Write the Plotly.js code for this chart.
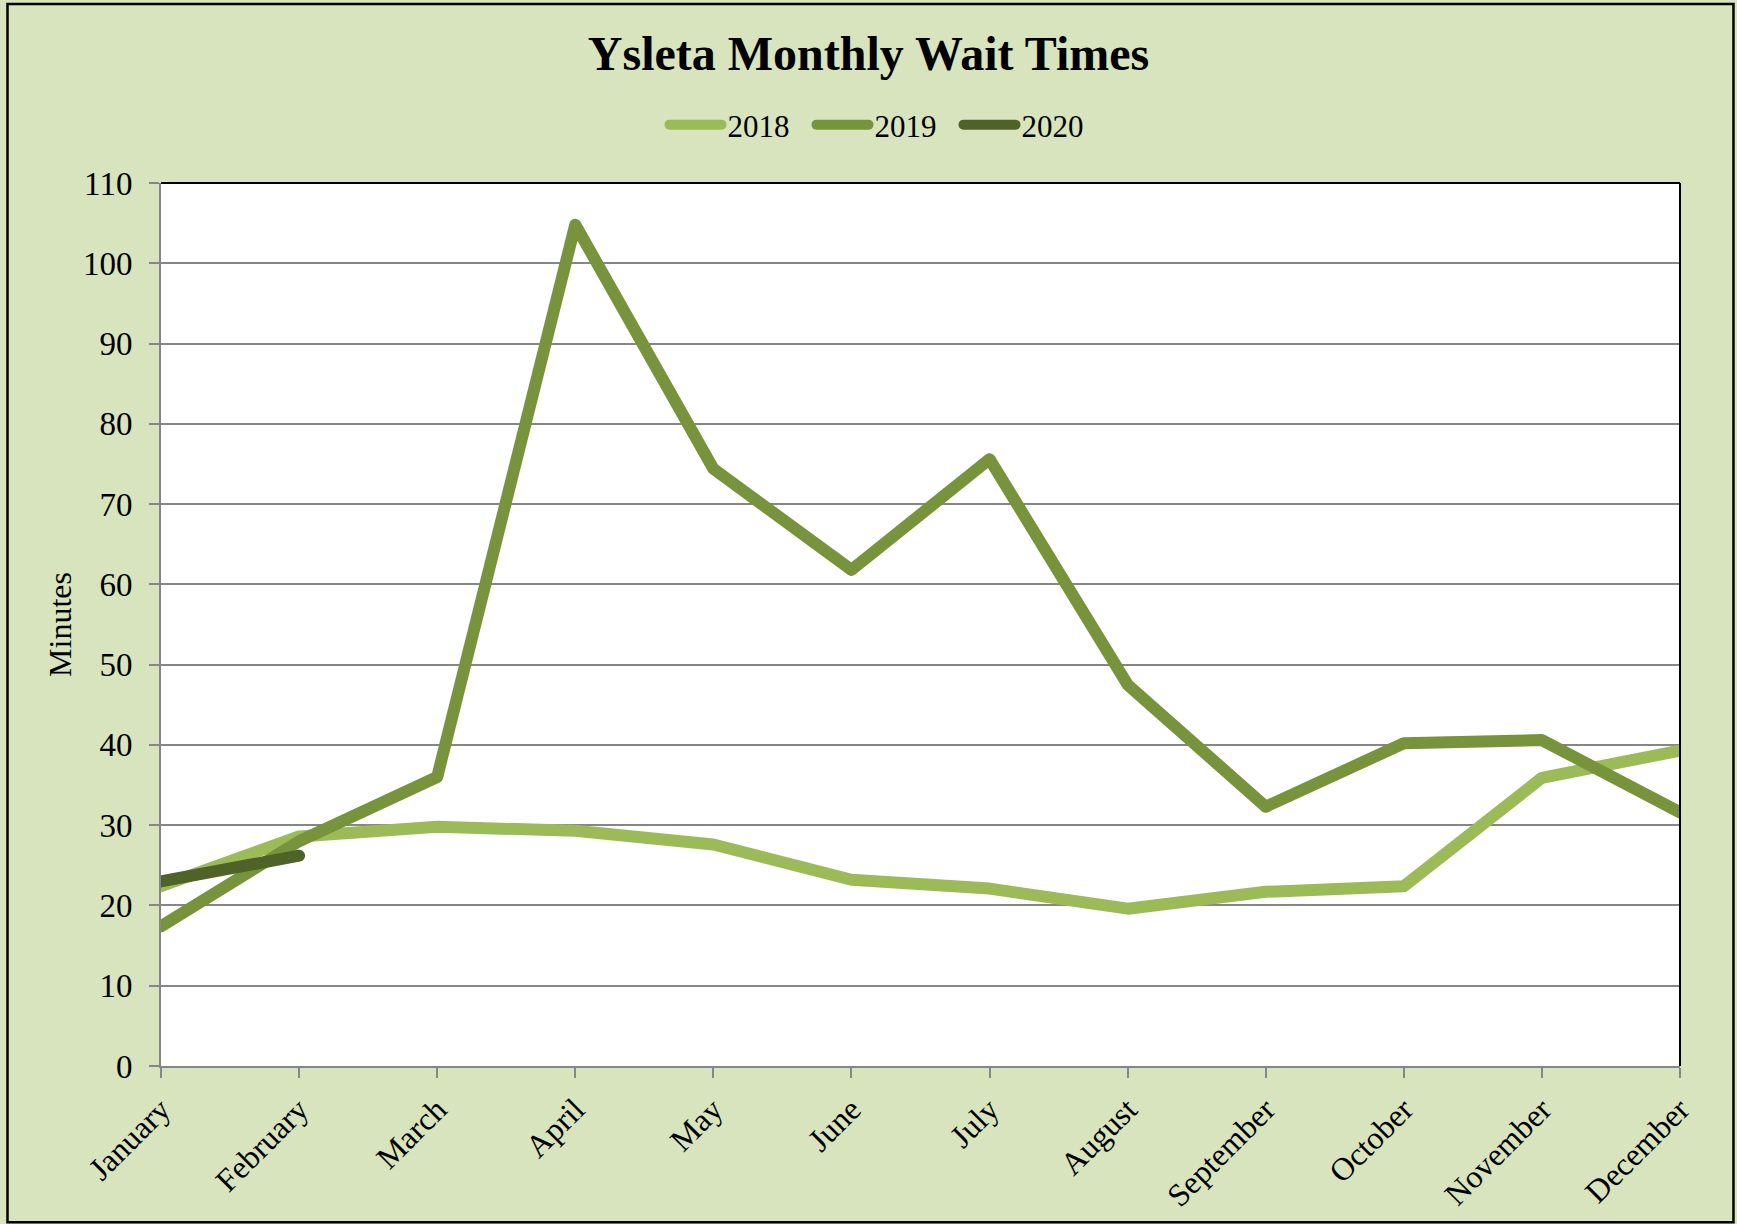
<!DOCTYPE html>
<html>
<head>
<meta charset="utf-8">
<script src="https://cdn.plot.ly/plotly-3.0.1.min.js"></script>
<style>
  html, body { margin: 0; padding: 0; background: #D7E4BD; }
  #chart { width: 1737px; height: 1224px; }
  .js-line { stroke-linecap: round; stroke-linejoin: round; }
  .legendlines path { d: path("M 10 0 h 52"); }
</style>
</head>
<body>
<div id="chart"></div>
<script>
const months = ["January","February","March","April","May","June","July","August","September","October","November","December"];
const y2018 = [22.4, 28.6, 29.8, 29.3, 27.6, 23.2, 22.1, 19.6, 21.7, 22.4, 35.9, 39.3];
const y2019 = [17.4, 28.0, 36.0, 104.8, 74.4, 61.8, 75.6, 47.5, 32.3, 40.2, 40.6, 31.6];
const y2020 = [23.0, 26.2];
const yTicks = [0,10,20,30,40,50,60,70,80,90,100,110];

const W = 1737, H = 1224;
const L = 160.6, R = 56.5, T = 183, B = 158.3;
const pw = W - L - R, ph = H - T - B;
const px = v => (v - L) / pw;
const py = v => (H - B - v) / ph;

const font = "Liberation Serif, Times New Roman, serif";

const traces = [
  {x: months, y: y2018, name: "2018", type: "scatter", mode: "lines", line: {color: "#9BBB59", width: 12}},
  {x: months, y: y2019, name: "2019", type: "scatter", mode: "lines", line: {color: "#77933C", width: 12}},
  {x: months.slice(0, y2020.length), y: y2020, name: "2020", type: "scatter", mode: "lines", line: {color: "#4F6228", width: 12}}
];

const layout = {
  width: W, height: H,
  paper_bgcolor: "#D7E4BD",
  plot_bgcolor: "#FFFFFF",
  margin: {l: L, r: R, t: T, b: B, pad: 0},
  font: {family: font, color: "#000", size: 32},
  title: {text: "<b>Ysleta Monthly Wait Times</b>", font: {family: font, size: 48, color: "#000"},
          x: 0.5, xanchor: "center", y: 1 - 53/H, yanchor: "middle", yref: "container"},
  showlegend: true,
  legend: {orientation: "h", x: 880/W, xanchor: "center", xref: "container", y: 1 - 125/H, yanchor: "middle", yref: "container",
           bgcolor: "rgba(0,0,0,0)", font: {family: font, size: 31, color: "#000"},
           itemwidth: 58, entrywidth: 74, entrywidthmode: "pixels", tracegroupgap: 0},
  xaxis: {
    type: "category", categoryorder: "array", categoryarray: months,
    range: [0, 11], showgrid: false, zeroline: false,
    showline: true, linecolor: "#868686", linewidth: 2,
    ticks: "outside", ticklen: 10, tickwidth: 2, tickcolor: "#868686",
    tickangle: -45, tickfont: {family: font, size: 32, color: "#000"}
  },
  yaxis: {
    range: [0, 110], tickvals: yTicks, ticktext: yTicks.map(String),
    showgrid: true, gridcolor: "#868686", gridwidth: 2, zeroline: false,
    showline: true, linecolor: "#868686", linewidth: 2,
    ticks: "outside", ticklen: 10, tickwidth: 2, tickcolor: "#868686",
    ticklabelstandoff: 10,
    tickfont: {family: font, size: 33, color: "#000"},
    title: {text: "Minutes", font: {family: font, size: 32, color: "#000"}, standoff: 2}
  },
  shapes: [
    {type: "line", xref: "paper", yref: "paper", x0: 0, x1: 1, y0: 1, y1: 1, line: {color: "#000", width: 2}},
    {type: "line", xref: "paper", yref: "paper", x0: 1, x1: 1, y0: 0, y1: 1, line: {color: "#000", width: 2}},
    {type: "rect", xref: "paper", yref: "paper", x0: px(7), x1: px(1734), y0: py(4), y1: py(1222), line: {color: "#000", width: 2.5}, layer: "below"}
  ]
};

function stretchLegend() {
  document.querySelectorAll("#chart .legendlines path").forEach(p => p.setAttribute("d", "M10,0h52"));
}
Plotly.newPlot("chart", traces, layout, {displayModeBar: false, staticPlot: true}).then(gd => {
  stretchLegend();
  setTimeout(stretchLegend, 50);
});
</script>
</body>
</html>
